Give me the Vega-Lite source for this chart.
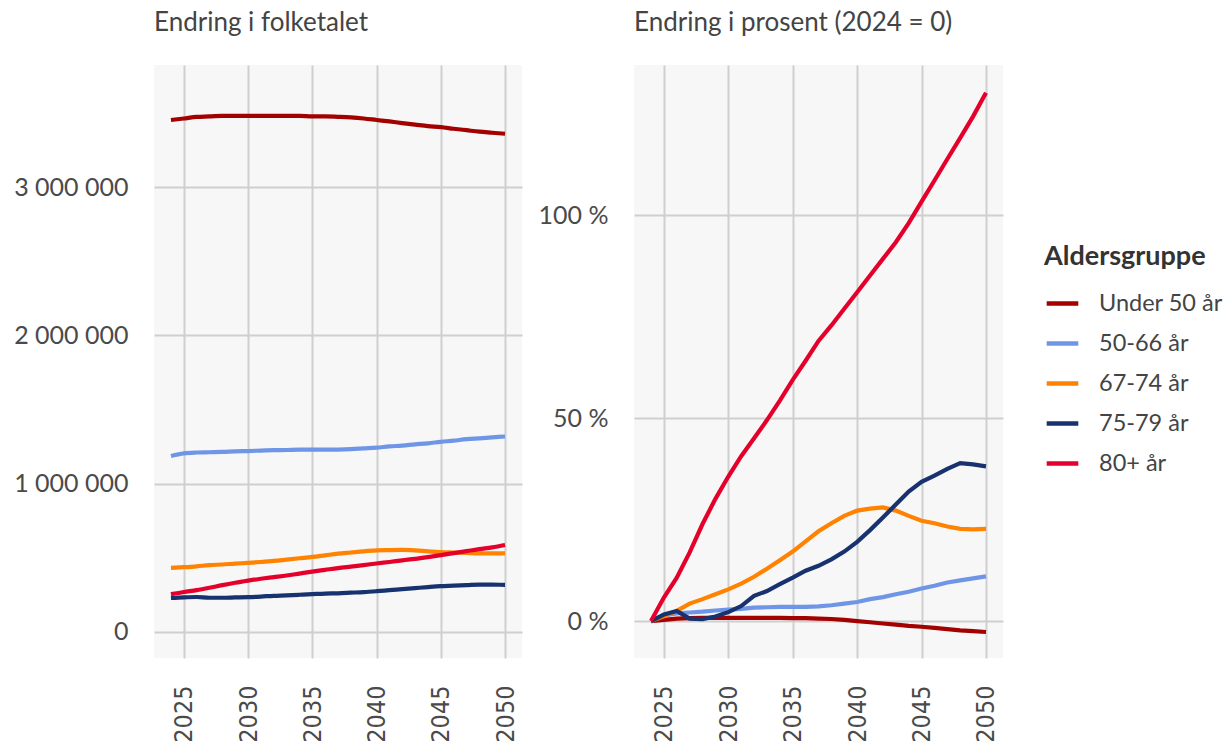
{
  "$schema": "https://vega.github.io/schema/vega-lite/v6.json",
  "padding": {"left": 13, "top": 10, "right": 0, "bottom": 0},
  "background": "white",
  "config": {
    "locale": {"number": {"decimal": ",", "thousands": " ", "grouping": [3], "currency": ["", " kr"]}},
    "view": {"fill": "#f7f7f7", "stroke": null},
    "font": "Lato",
    "axis": {"domain": false, "ticks": false, "grid": true, "gridColor": "#cfcfcf", "gridWidth": 2, "labelColor": "#4a4a4a", "title": null},
    "axisY": {"labelFont": "Lato", "labelFontSize": 25, "labelPadding": 26},
    "axisX": {"labelFont": "'Liberation Sans Narrow', 'DejaVu Sans Condensed', Roboto", "labelFontSize": 25, "labelAngle": -90, "labelPadding": 27, "labelAlign": "right", "labelBaseline": "middle"},
    "title": {"anchor": "start", "frame": "group", "font": "Lato", "fontSize": 26, "fontWeight": "normal", "color": "#444444", "offset": 29},
    "legend": {"titleFont": "Lato", "titleFontSize": 27, "titleFontWeight": "bold", "titleColor": "#333333", "labelFont": "Lato", "labelFontSize": 23.5, "labelColor": "#444444", "symbolType": "stroke", "symbolStrokeWidth": 4.5, "symbolSize": 1000, "labelOffset": 18, "rowPadding": 10, "titlePadding": 14}
  },
  "datasets": {
    "d": [
      {"y":2024,"g":"Under 50 år","n":3452000,"p":0},
      {"y":2025,"g":"Under 50 år","n":3462000,"p":0.3},
      {"y":2026,"g":"Under 50 år","n":3473000,"p":0.6},
      {"y":2027,"g":"Under 50 år","n":3476000,"p":0.7},
      {"y":2028,"g":"Under 50 år","n":3480000,"p":0.8},
      {"y":2029,"g":"Under 50 år","n":3480000,"p":0.8},
      {"y":2030,"g":"Under 50 år","n":3480000,"p":0.8},
      {"y":2031,"g":"Under 50 år","n":3480000,"p":0.8},
      {"y":2032,"g":"Under 50 år","n":3480000,"p":0.8},
      {"y":2033,"g":"Under 50 år","n":3480000,"p":0.8},
      {"y":2034,"g":"Under 50 år","n":3480000,"p":0.8},
      {"y":2035,"g":"Under 50 år","n":3476000,"p":0.7},
      {"y":2036,"g":"Under 50 år","n":3476000,"p":0.7},
      {"y":2037,"g":"Under 50 år","n":3473000,"p":0.6},
      {"y":2038,"g":"Under 50 år","n":3469000,"p":0.5},
      {"y":2039,"g":"Under 50 år","n":3462000,"p":0.3},
      {"y":2040,"g":"Under 50 år","n":3452000,"p":0.0},
      {"y":2041,"g":"Under 50 år","n":3442000,"p":-0.3},
      {"y":2042,"g":"Under 50 år","n":3431000,"p":-0.6},
      {"y":2043,"g":"Under 50 år","n":3421000,"p":-0.9},
      {"y":2044,"g":"Under 50 år","n":3411000,"p":-1.2},
      {"y":2045,"g":"Under 50 år","n":3404000,"p":-1.4},
      {"y":2046,"g":"Under 50 år","n":3393000,"p":-1.7},
      {"y":2047,"g":"Under 50 år","n":3383000,"p":-2.0},
      {"y":2048,"g":"Under 50 år","n":3373000,"p":-2.3},
      {"y":2049,"g":"Under 50 år","n":3366000,"p":-2.5},
      {"y":2050,"g":"Under 50 år","n":3359000,"p":-2.7},
      {"y":2024,"g":"50-66 år","n":1187000,"p":0},
      {"y":2025,"g":"50-66 år","n":1204000,"p":1.4},
      {"y":2026,"g":"50-66 år","n":1210000,"p":1.9},
      {"y":2027,"g":"50-66 år","n":1212000,"p":2.1},
      {"y":2028,"g":"50-66 år","n":1214000,"p":2.3},
      {"y":2029,"g":"50-66 år","n":1218000,"p":2.6},
      {"y":2030,"g":"50-66 år","n":1220000,"p":2.8},
      {"y":2031,"g":"50-66 år","n":1223000,"p":3.0},
      {"y":2032,"g":"50-66 år","n":1226000,"p":3.3},
      {"y":2033,"g":"50-66 år","n":1227000,"p":3.4},
      {"y":2034,"g":"50-66 år","n":1229000,"p":3.5},
      {"y":2035,"g":"50-66 år","n":1229000,"p":3.5},
      {"y":2036,"g":"50-66 år","n":1229000,"p":3.5},
      {"y":2037,"g":"50-66 år","n":1230000,"p":3.6},
      {"y":2038,"g":"50-66 år","n":1233000,"p":3.9},
      {"y":2039,"g":"50-66 år","n":1238000,"p":4.3},
      {"y":2040,"g":"50-66 år","n":1243000,"p":4.7},
      {"y":2041,"g":"50-66 år","n":1251000,"p":5.4},
      {"y":2042,"g":"50-66 år","n":1257000,"p":5.9},
      {"y":2043,"g":"50-66 år","n":1265000,"p":6.6},
      {"y":2044,"g":"50-66 år","n":1272000,"p":7.2},
      {"y":2045,"g":"50-66 år","n":1282000,"p":8.0},
      {"y":2046,"g":"50-66 år","n":1290000,"p":8.7},
      {"y":2047,"g":"50-66 år","n":1300000,"p":9.5},
      {"y":2048,"g":"50-66 år","n":1306000,"p":10.0},
      {"y":2049,"g":"50-66 år","n":1312000,"p":10.5},
      {"y":2050,"g":"50-66 år","n":1318000,"p":11.0},
      {"y":2024,"g":"67-74 år","n":432000,"p":0},
      {"y":2025,"g":"67-74 år","n":437000,"p":1.2},
      {"y":2026,"g":"67-74 år","n":443000,"p":2.5},
      {"y":2027,"g":"67-74 år","n":451000,"p":4.3},
      {"y":2028,"g":"67-74 år","n":455000,"p":5.4},
      {"y":2029,"g":"67-74 år","n":461000,"p":6.6},
      {"y":2030,"g":"67-74 år","n":466000,"p":7.8},
      {"y":2031,"g":"67-74 år","n":472000,"p":9.2},
      {"y":2032,"g":"67-74 år","n":479000,"p":10.9},
      {"y":2033,"g":"67-74 år","n":488000,"p":12.9},
      {"y":2034,"g":"67-74 år","n":497000,"p":15.0},
      {"y":2035,"g":"67-74 år","n":506000,"p":17.1},
      {"y":2036,"g":"67-74 år","n":517000,"p":19.6},
      {"y":2037,"g":"67-74 år","n":528000,"p":22.1},
      {"y":2038,"g":"67-74 år","n":536000,"p":24.1},
      {"y":2039,"g":"67-74 år","n":544000,"p":25.9},
      {"y":2040,"g":"67-74 år","n":550000,"p":27.2},
      {"y":2041,"g":"67-74 år","n":552000,"p":27.7},
      {"y":2042,"g":"67-74 år","n":553000,"p":28.0},
      {"y":2043,"g":"67-74 år","n":550000,"p":27.2},
      {"y":2044,"g":"67-74 år","n":544000,"p":25.9},
      {"y":2045,"g":"67-74 år","n":539000,"p":24.7},
      {"y":2046,"g":"67-74 år","n":536000,"p":24.1},
      {"y":2047,"g":"67-74 år","n":533000,"p":23.3},
      {"y":2048,"g":"67-74 år","n":530000,"p":22.7},
      {"y":2049,"g":"67-74 år","n":530000,"p":22.6},
      {"y":2050,"g":"67-74 år","n":530000,"p":22.7},
      {"y":2024,"g":"75-79 år","n":230000,"p":0},
      {"y":2025,"g":"75-79 år","n":234000,"p":1.6},
      {"y":2026,"g":"75-79 år","n":236000,"p":2.5},
      {"y":2027,"g":"75-79 år","n":231000,"p":0.6},
      {"y":2028,"g":"75-79 år","n":231000,"p":0.5},
      {"y":2029,"g":"75-79 år","n":233000,"p":1.1},
      {"y":2030,"g":"75-79 år","n":235000,"p":2.2},
      {"y":2031,"g":"75-79 år","n":239000,"p":3.7},
      {"y":2032,"g":"75-79 år","n":244000,"p":6.2},
      {"y":2033,"g":"75-79 år","n":247000,"p":7.4},
      {"y":2034,"g":"75-79 år","n":251000,"p":9.1},
      {"y":2035,"g":"75-79 år","n":255000,"p":10.7},
      {"y":2036,"g":"75-79 år","n":259000,"p":12.4},
      {"y":2037,"g":"75-79 år","n":261000,"p":13.6},
      {"y":2038,"g":"75-79 år","n":265000,"p":15.2},
      {"y":2039,"g":"75-79 år","n":269000,"p":17.1},
      {"y":2040,"g":"75-79 år","n":275000,"p":19.5},
      {"y":2041,"g":"75-79 år","n":282000,"p":22.4},
      {"y":2042,"g":"75-79 år","n":289000,"p":25.5},
      {"y":2043,"g":"75-79 år","n":296000,"p":28.7},
      {"y":2044,"g":"75-79 år","n":303000,"p":31.9},
      {"y":2045,"g":"75-79 år","n":309000,"p":34.3},
      {"y":2046,"g":"75-79 år","n":312000,"p":35.8},
      {"y":2047,"g":"75-79 år","n":316000,"p":37.5},
      {"y":2048,"g":"75-79 år","n":320000,"p":38.9},
      {"y":2049,"g":"75-79 år","n":319000,"p":38.6},
      {"y":2050,"g":"75-79 år","n":318000,"p":38.1},
      {"y":2024,"g":"80+ år","n":255000,"p":0},
      {"y":2025,"g":"80+ år","n":270000,"p":5.8},
      {"y":2026,"g":"80+ år","n":282000,"p":10.7},
      {"y":2027,"g":"80+ år","n":298000,"p":16.9},
      {"y":2028,"g":"80+ år","n":316000,"p":23.9},
      {"y":2029,"g":"80+ år","n":332000,"p":30.1},
      {"y":2030,"g":"80+ år","n":346000,"p":35.6},
      {"y":2031,"g":"80+ år","n":359000,"p":40.6},
      {"y":2032,"g":"80+ år","n":370000,"p":45.0},
      {"y":2033,"g":"80+ år","n":381000,"p":49.5},
      {"y":2034,"g":"80+ år","n":394000,"p":54.3},
      {"y":2035,"g":"80+ år","n":407000,"p":59.4},
      {"y":2036,"g":"80+ år","n":419000,"p":64.1},
      {"y":2037,"g":"80+ år","n":431000,"p":69.0},
      {"y":2038,"g":"80+ år","n":441000,"p":72.8},
      {"y":2039,"g":"80+ år","n":451000,"p":76.9},
      {"y":2040,"g":"80+ år","n":462000,"p":81.0},
      {"y":2041,"g":"80+ år","n":472000,"p":85.1},
      {"y":2042,"g":"80+ år","n":483000,"p":89.2},
      {"y":2043,"g":"80+ år","n":493000,"p":93.3},
      {"y":2044,"g":"80+ år","n":505000,"p":98.0},
      {"y":2045,"g":"80+ år","n":518000,"p":103.3},
      {"y":2046,"g":"80+ år","n":532000,"p":108.5},
      {"y":2047,"g":"80+ år","n":545000,"p":113.8},
      {"y":2048,"g":"80+ år","n":559000,"p":119.0},
      {"y":2049,"g":"80+ år","n":571000,"p":124.3},
      {"y":2050,"g":"80+ år","n":587000,"p":130.1}
    ]
  },
  "hconcat": [
    {
      "data": {"name": "d"},
      "width": 368,
      "height": 593,
      "title": {"text": "Endring i folketalet"},
      "mark": {"type": "line", "strokeWidth": 4.2, "interpolate": "monotone"},
      "encoding": {
        "x": {"field": "y", "type": "quantitative", "scale": {"domain": [2022.68, 2051.32], "nice": false, "zero": false}, "axis": {"values": [2025, 2030, 2035, 2040, 2045, 2050], "format": "d"}},
        "y": {"field": "n", "type": "quantitative", "scale": {"domain": [-175300, 3822600], "nice": false, "zero": false}, "axis": {"values": [0, 1000000, 2000000, 3000000], "format": ",d"}},
        "color": {"field": "g", "type": "nominal", "sort": ["Under 50 år", "50-66 år", "67-74 år", "75-79 år", "80+ år"], "scale": {"domain": ["Under 50 år", "50-66 år", "67-74 år", "75-79 år", "80+ år"], "range": ["#a30000", "#6f96e6", "#ff8200", "#17326e", "#e4002b"]}, "legend": {"title": "Aldersgruppe", "orient": "none", "legendX": 890, "legendY": 179}}
      }
    },
    {
      "data": {"name": "d"},
      "width": 369,
      "height": 593,
      "title": {"text": "Endring i prosent (2024 = 0)"},
      "mark": {"type": "line", "strokeWidth": 4.2},
      "encoding": {
        "x": {"field": "y", "type": "quantitative", "scale": {"domain": [2022.68, 2051.32], "nice": false, "zero": false}, "axis": {"values": [2025, 2030, 2035, 2040, 2045, 2050], "format": "d"}},
        "y": {"field": "p", "type": "quantitative", "scale": {"domain": [-9.1, 136.95], "nice": false, "zero": false}, "axis": {"values": [0, 50, 100], "labelExpr": "datum.value + ' %'"}},
        "color": {"field": "g", "type": "nominal", "sort": ["Under 50 år", "50-66 år", "67-74 år", "75-79 år", "80+ år"], "scale": {"domain": ["Under 50 år", "50-66 år", "67-74 år", "75-79 år", "80+ år"], "range": ["#a30000", "#6f96e6", "#ff8200", "#17326e", "#e4002b"]}, "legend": {"title": "Aldersgruppe", "orient": "none", "legendX": 890, "legendY": 179}}
      }
    }
  ],
  "spacing": 16,
  "resolve": {"scale": {"x": "independent", "y": "independent", "color": "shared"}}
}
